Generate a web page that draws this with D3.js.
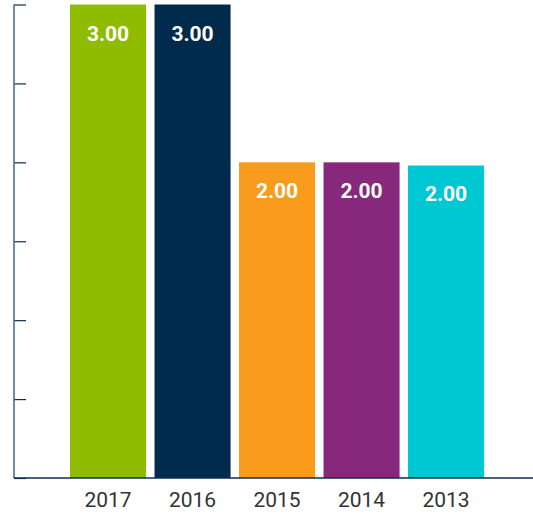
<!DOCTYPE html>
<html>
<head>
<meta charset="utf-8">
<script src="https://cdn.jsdelivr.net/npm/d3@7"></script>
<style>
  html, body { margin: 0; padding: 0; background: #fff; }
  #chart { width: 533px; height: 517px; }
</style>
</head>
<body>
<div id="chart"></div>
<script>
const years = ["2017", "2016", "2015", "2014", "2013"];
const values = [3.0, 3.0, 2.0, 2.0, 1.98];
const valueLabels = ["3.00", "3.00", "2.00", "2.00", "2.00"];
const colors = ["#8fbb00", "#002b4c", "#f99b1c", "#88287c", "#00c8d2"];
const yTicks = [0, 0.5, 1, 1.5, 2, 2.5, 3];

const width = 533;
const height = 517;
const margin = { left: 14, right: 0, top: 4.5, bottom: 39 };

const svg = d3.select("#chart")
  .append("svg")
  .attr("width", width)
  .attr("height", height);

const xScale = d3.scaleBand()
  .domain(years)
  .range([65.8, 488.3])
  .paddingInner(0.1)
  .paddingOuter(0.05);

const yScale = d3.scaleLinear()
  .domain([0, 3])
  .range([height - margin.bottom, margin.top]);

// bars
svg.append("g")
  .selectAll("rect")
  .data(years)
  .enter()
  .append("rect")
  .attr("x", (d) => xScale(d))
  .attr("y", (d, i) => yScale(values[i]))
  .attr("width", xScale.bandwidth())
  .attr("height", (d, i) => yScale(0) - yScale(values[i]))
  .attr("fill", (d, i) => colors[i]);

// value labels inside bars
svg.append("g")
  .selectAll("text")
  .data(years)
  .enter()
  .append("text")
  .attr("x", (d) => xScale(d) + xScale.bandwidth() / 2)
  .attr("y", (d, i) => yScale(values[i]) + 36)
  .attr("text-anchor", "middle")
  .attr("fill", "#fff")
  .style("font-family", "Roboto, sans-serif")
  .style("font-weight", "bold")
  .style("font-size", "21px")
  .text((d, i) => valueLabels[i]);

// y axis
const yAxis = svg.append("g")
  .attr("transform", `translate(${margin.left}, 0)`)
  .call(d3.axisRight(yScale).tickValues(yTicks).tickSize(12).tickFormat(""));
yAxis.select(".domain").remove();
yAxis.selectAll(".tick line").attr("stroke", "#0d2d4d").attr("stroke-width", 1.2);
svg.append("line")
  .attr("x1", margin.left).attr("x2", margin.left)
  .attr("y1", yScale(3)).attr("y2", yScale(0))
  .attr("stroke", "#4f6f8f")
  .attr("stroke-width", 1.6);

// x axis
const xAxis = svg.append("g")
  .attr("transform", `translate(0, ${yScale(0)})`)
  .call(d3.axisBottom(xScale).tickSize(0).tickPadding(14));
xAxis.select(".domain").remove();
svg.append("line")
  .attr("x1", margin.left).attr("x2", width)
  .attr("y1", yScale(0)).attr("y2", yScale(0))
  .attr("stroke", "#0d2d4d")
  .attr("stroke-width", 1.5);
xAxis.selectAll("text")
  .attr("fill", "#333")
  .style("font-family", "Roboto, sans-serif")
  .style("font-size", "21px");
</script>
</body>
</html>
